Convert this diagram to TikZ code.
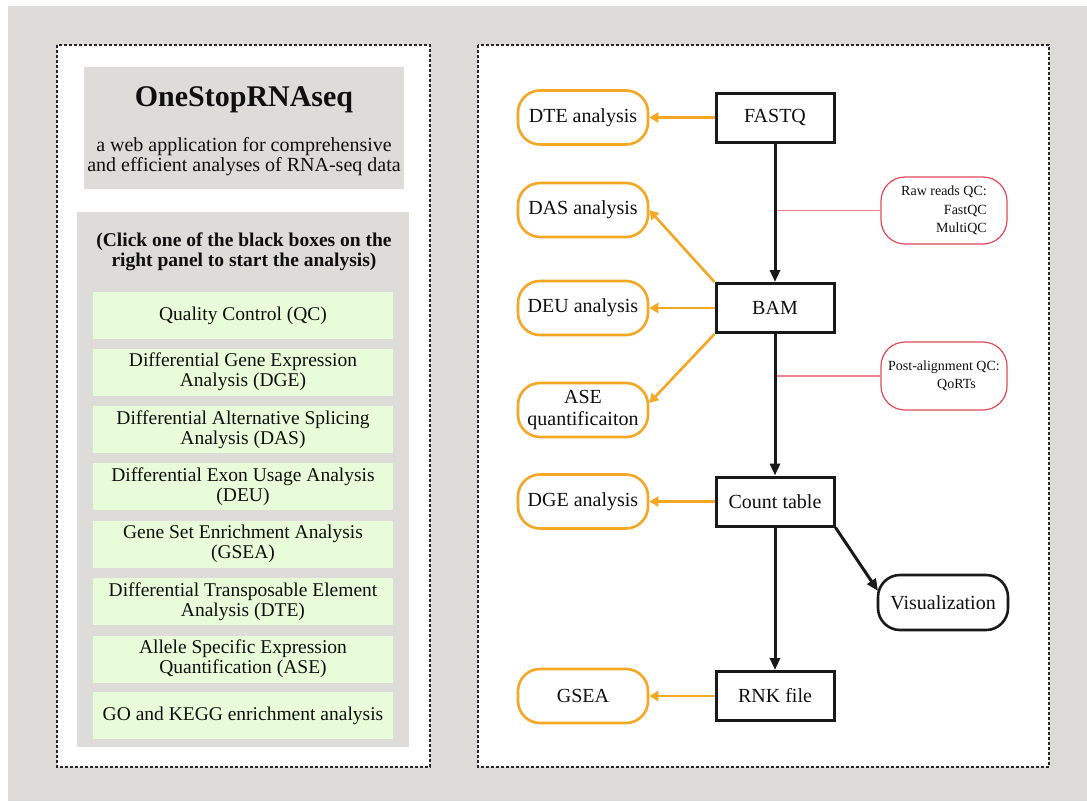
\documentclass[tikz,border=0pt]{standalone}
\usepackage{fontspec}
\setmainfont{Liberation Serif}
\usetikzlibrary{arrows.meta,calc}
\definecolor{bggray}{RGB}{220,219,216}
\definecolor{boxgray}{RGB}{221,220,217}
\definecolor{lgreen}{RGB}{233,252,217}
\definecolor{orng}{RGB}{245,166,35}
\definecolor{redb}{RGB}{228,70,90}
\definecolor{redl}{RGB}{240,130,140}
\definecolor{txt}{RGB}{15,15,15}
\tikzset{
  panel/.style={draw=black!85, line width=1.2pt, dash pattern=on 3pt off 2pt, fill=white},
  graybox/.style={fill=boxgray, draw=none},
  greenbox/.style={fill=lgreen, draw=none, minimum width=300pt, minimum height=47pt, align=center, inner sep=0pt, font=\fontsize{19.5}{20}\selectfont, text=txt},
  blkbox/.style={draw=black!90, line width=3pt, minimum width=118pt, minimum height=49pt, inner sep=0pt, font=\fontsize{20}{22}\selectfont, text=txt},
  ornbox/.style={draw=orng, line width=2.6pt, rounded corners=22pt, minimum width=130pt, minimum height=54pt, inner sep=0pt, align=center, font=\fontsize{20}{21}\selectfont, text=txt},
  visbox/.style={draw=black!90, line width=2.6pt, rounded corners=22pt, minimum width=130pt, minimum height=55pt, inner sep=0pt, font=\fontsize{20}{21}\selectfont, text=txt},
  redbox/.style={draw=redb, line width=1.2pt, rounded corners=24pt, minimum width=126pt, minimum height=67pt, inner sep=0pt, font=\fontsize{14}{18.5}\selectfont, text=txt},
  blkarrow/.style={draw=black!90, line width=3pt, -{Triangle[length=12pt,width=10pt]}},
  ornarrow/.style={draw=orng, line width=2.6pt, -{Triangle[length=9pt,width=10pt]}},
  redline/.style={draw=redl, line width=1.2pt},
}
\begin{document}
\begin{tikzpicture}[x=1pt,y=-1pt]
\useasboundingbox (0,0) rectangle (1087,801);
\fill[white] (0,0) rectangle (1087,801);
\fill[bggray] (8,6) rectangle (1087,801);
% panels
\draw[panel] (57,45) rectangle (430,767);
\draw[panel] (478,45) rectangle (1049,767);
% left panel
\node[graybox, minimum width=320pt, minimum height=122pt] (titlebox) at (244,128) {};
\node[font=\fontsize{30}{30}\selectfont\bfseries, text=txt] (title) at (244,100) {OneStopRNAseq};
\node[font=\fontsize{20}{20}\selectfont, text=txt, align=center] (sub) at (244,157) {a web application for comprehensive\\and efficient analyses of RNA-seq data};
\node[graybox, minimum width=332pt, minimum height=535pt] (menubox) at (243,479.5) {};
\node[font=\fontsize{19.5}{20}\selectfont\bfseries, text=txt, align=center] (click) at (244,252) {(Click one of the black boxes on the\\right panel to start the analysis)};
\node[greenbox] (g1) at (243,315.5) {Quality Control (QC)};
\node[greenbox] (g2) at (243,372) {Differential Gene Expression\\Analysis (DGE)};
\node[greenbox] (g3) at (243,429.5) {Differential Alternative Splicing\\Analysis (DAS)};
\node[greenbox] (g4) at (243,486.5) {Differential Exon Usage Analysis\\(DEU)};
\node[greenbox] (g5) at (243,544) {Gene Set Enrichment Analysis\\(GSEA)};
\node[greenbox] (g6) at (243,601.5) {Differential Transposable Element\\Analysis (DTE)};
\node[greenbox] (g7) at (243,659) {Allele Specific Expression\\Quantification (ASE)};
\node[greenbox] (g8) at (243,715.5) {GO and KEGG enrichment analysis};
% right panel
\node[blkbox] (fastq) at (775,117.5) {FASTQ};
\node[blkbox] (bam) at (775,308) {BAM};
\node[blkbox] (count) at (775,501.5) {Count table};
\node[blkbox] (rnk) at (775,696) {RNK file};
\node[ornbox] (dte) at (583,117.5) {DTE analysis};
\node[ornbox] (das) at (583,210) {DAS analysis};
\node[ornbox] (deu) at (583,308) {DEU analysis};
\node[ornbox] (ase) at (583,410) {ASE\\quantificaiton};
\node[ornbox] (dge) at (583,501.5) {DGE analysis};
\node[ornbox] (gsea) at (583,696) {GSEA};
\node[visbox] (vis) at (943,602.5) {Visualization};
\node[redbox, align=right] (rawqc) at (944,210.5) {Raw reads QC:\\FastQC\\MultiQC};
\node[redbox, align=center, minimum height=68pt] (postqc) at (944,376) {Post-alignment QC:\\\hspace*{25pt}QoRTs};
\coordinate (vistip) at (878,591);
% red connectors
\draw[redline] (rawqc.west) -- (fastq.south |- rawqc.west);
\draw[redline] (postqc.west) -- (bam.south |- postqc.west);
% black arrows
\draw[blkarrow] (fastq.south) -- (bam.north);
\draw[blkarrow] (bam.south) -- (count.north);
\draw[blkarrow] (count.south) -- (rnk.north);
\draw[blkarrow] (count.south east) -- (vistip);
% orange arrows
\draw[ornarrow] (fastq.west) -- (dte.east);
\draw[ornarrow] (bam.north west) -- (das.east);
\draw[ornarrow] (bam.west) -- (deu.east);
\draw[ornarrow] (bam.south west) -- ($(ase.east)+(0,-7)$);
\draw[ornarrow] (count.west) -- (dge.east);
\draw[ornarrow] (rnk.west) -- (gsea.east);
\end{tikzpicture}
\end{document}
